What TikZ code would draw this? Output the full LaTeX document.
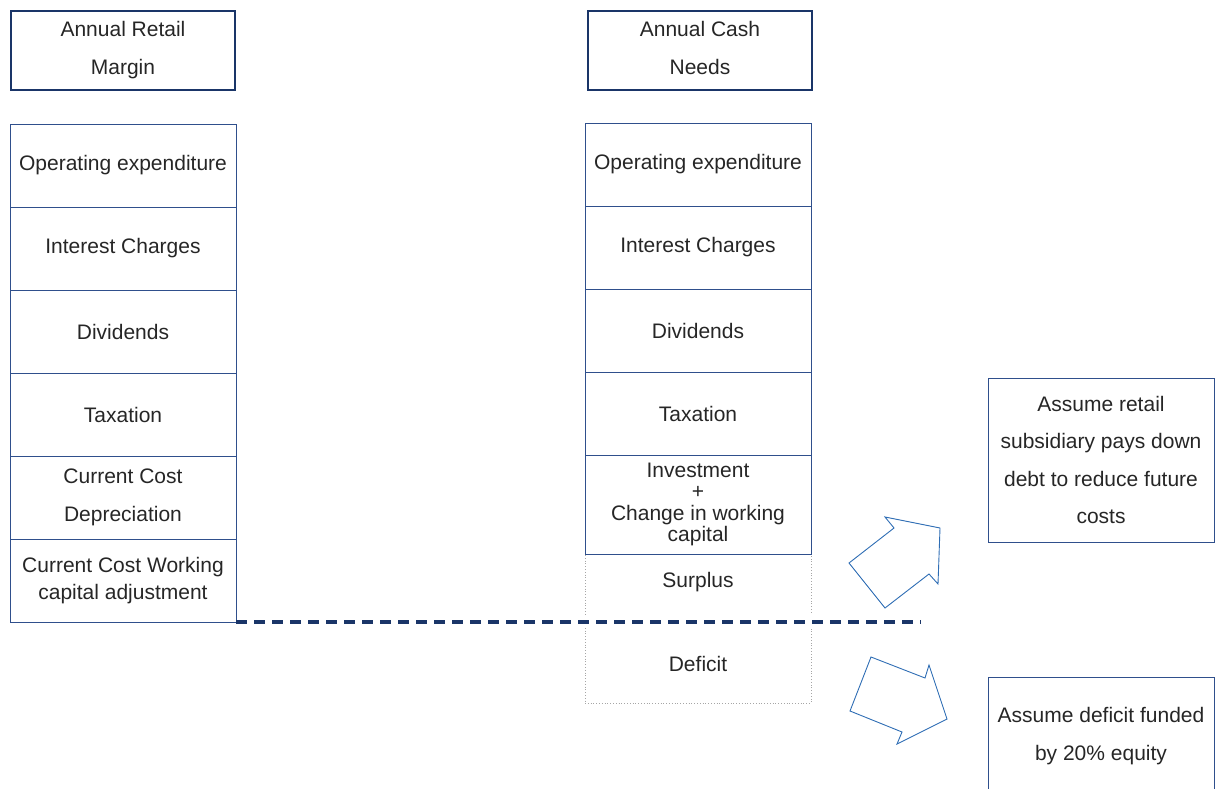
\documentclass[tikz,border=0pt]{standalone}
\usepackage{fontspec}
\setmainfont{Liberation Sans}
\definecolor{navy}{HTML}{1A3568}
\definecolor{boxline}{HTML}{2F4F8C}
\definecolor{arrowblue}{HTML}{2E6DB4}
\definecolor{ink}{HTML}{262626}
\begin{document}
\begin{tikzpicture}[x=1pt,y=-1pt,
  every node/.style={text=ink, inner sep=0pt, outer sep=0pt},
  header/.style={draw=navy, line width=2.8pt, minimum width=224pt, minimum height=79pt,
    anchor=north west, align=center, font=\fontsize{21}{38}\selectfont},
  cell/.style={draw=boxline, line width=0.9pt, minimum width=226pt, minimum height=83pt,
    anchor=north west, align=center, font=\fontsize{21}{38}\selectfont},
  tight/.style={font=\fontsize{21}{27}\selectfont},
  tighter/.style={font=\fontsize{21}{21.5}\selectfont},
  dotbox/.style={draw=gray!70, line width=0.8pt, dotted, minimum width=226pt, anchor=north west},
  note/.style={draw=boxline, line width=0.9pt, minimum width=226pt, anchor=north west,
    align=center, font=\fontsize{21}{37.5}\selectfont},
  blockarrow/.style={draw=arrowblue, line width=0.9pt, line join=miter},
  cutline/.style={draw=navy, line width=3.2pt, dash pattern=on 11pt off 7pt}
]
\useasboundingbox (0,0) rectangle (1215,789);
\clip (0,0) rectangle (1215,789);

% left column: annual retail margin
\node[header] (lh) at (11,11) {Annual Retail\\Margin};
\node[cell] (l1) at (10,124) {Operating expenditure};
\node[cell] (l2) at (l1.south west) {Interest Charges};
\node[cell] (l3) at (l2.south west) {Dividends};
\node[cell] (l4) at (l3.south west) {Taxation};
\node[cell] (l5) at (l4.south west) {Current Cost\\Depreciation};
\node[cell, tight] (l6) at (l5.south west) {Current Cost Working\\capital adjustment};

% middle column: annual cash needs
\node[dotbox, minimum height=149pt] (md) at (585,554) {};
\node[header] (mh) at (588,11) {Annual Cash\\Needs\vphantom{g}};
\node[cell] (m1) at (585,123) {Operating expenditure};
\node[cell] (m2) at (m1.south west) {Interest Charges};
\node[cell] (m3) at (m2.south west) {Dividends};
\node[cell] (m4) at (m3.south west) {Taxation};
\node[cell, tighter, minimum height=99pt] (m5) at (m4.south west) {Investment\\+\\Change in working\\capital};
\node[font=\fontsize{21}{25}\selectfont] (ms) at (698,582) {Surplus};
\node[font=\fontsize{21}{25}\selectfont] (mf) at (698,664) {Deficit};

% break-even line, level with the bottom of the margin column,
% with a clear gap through the dotted column
\coordinate (xend) at (921,0);
\coordinate (cutend) at (l6.south east -| xend);
\fill[white] (580,615) rectangle (818,628);
\draw[cutline] (l6.south east) -- (cutend);

% outcome notes
\node[note, minimum height=164pt] (nt) at (988,378) {Assume retail\\subsidiary pays down\\debt to reduce future\\costs};
\draw[boxline, line width=0.9pt] (988,800) -- (988,677) -- (1214,677) -- (1214,800);
\node[align=center, font=\fontsize{21}{37.5}\selectfont] (nb) at (1101,736) {Assume deficit funded\\by 20\% equity};

% block arrows
\draw[blockarrow] (885,517) -- (940,528) -- (938,584) -- (929,574) -- (885,608) -- (849,563) -- (894,528) -- cycle;
\draw[blockarrow] (871,657) -- (925,678) -- (929,665) -- (947,719) -- (897,744) -- (902,732) -- (850,711) -- cycle;
\end{tikzpicture}
\end{document}
